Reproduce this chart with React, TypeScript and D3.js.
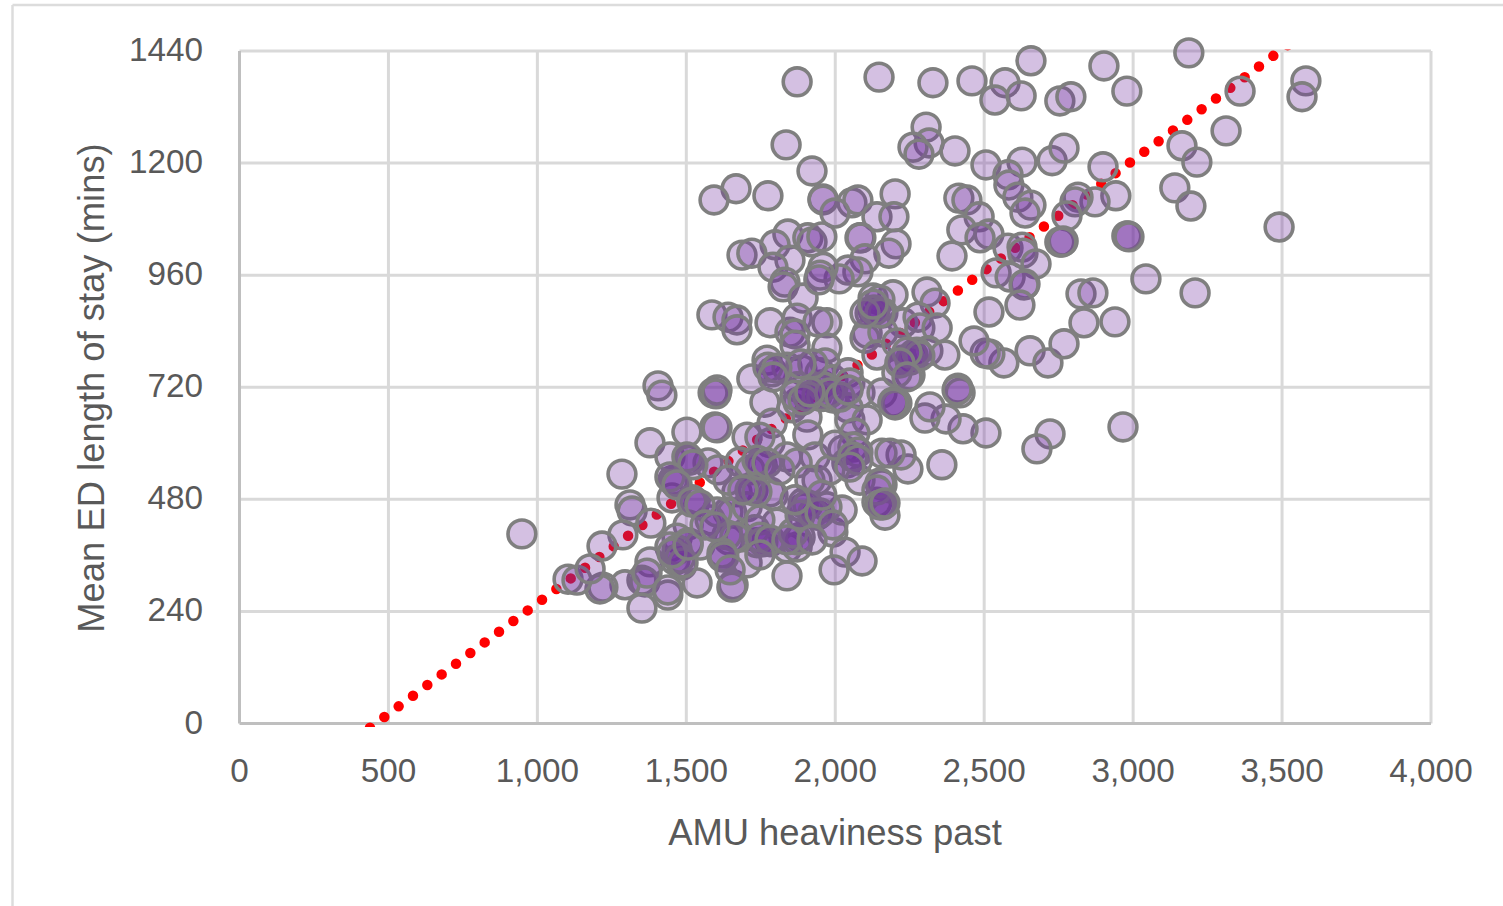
import * as d3 from "d3";

const WIDTH = 1503;
const HEIGHT = 906;
const MARGIN = { top: 51, right: 72, bottom: 182.5, left: 239.5 };

const X_TICKS = [0, 500, 1000, 1500, 2000, 2500, 3000, 3500, 4000];
const Y_TICKS = [0, 240, 480, 720, 960, 1200, 1440];

const X_TITLE = "AMU heaviness past";
const Y_TITLE = "Mean ED length of stay (mins)";

// linear trendline ends, x then y
const TREND_X = [438, 3520];
const TREND_Y = [-9, 1453];

// [AMU heaviness past, mean ED length of stay]
const POINTS: [number, number][] = [
  [1872,1374],[2147,1384],[2328,1372],[2459,1376],[2570,1372],[2536,1335],[2624,1344],[2657,1419],
  [2754,1333],[2791,1342],[2902,1408],[2979,1354],[3187,1436],[3359,1354],[3580,1376],[3567,1342],
  [3312,1269],[3164,1237],[3214,1202],[3140,1147],[3194,1108],[3490,1063],[2899,1192],[2942,1130],
  [2872,1117],[2815,1127],[2805,1117],[2778,1087],[2979,1044],[2983,1044],[2986,1042],[2754,1031],
  [2765,1033],[2761,1031],[3043,952],[3208,922],[2825,920],[2865,922],[2835,858],[2939,860],
  [2654,798],[2714,772],[2768,813],[2566,772],[2519,791],[2503,793],[2466,819],[2966,635],
  [2721,620],[2677,588],[2506,622],[2429,631],[2372,652],[2301,654],[2318,678],[2412,718],
  [2419,708],[2358,554],[2244,545],[2221,575],[2305,1277],[2315,1243],[2261,1234],[2281,1219],
  [2402,1226],[1835,1239],[1922,1183],[2506,1196],[2627,1202],[2728,1205],[2768,1232],[2580,1175],
  [2583,1153],[2613,1127],[2657,1110],[2637,1093],[1667,1145],[1593,1121],[1774,1130],[1959,1123],
  [1959,1121],[2056,1115],[2076,1121],[2201,1134],[1999,1093],[2140,1085],[2197,1085],[2415,1125],
  [2442,1121],[2483,1085],[2425,1057],[2516,1048],[2486,1040],[2580,1018],[2627,1020],[2630,1007],
  [2674,984],[2540,965],[2587,956],[2637,941],[2634,939],[2620,896],[2516,881],[2392,1001],
  [2308,924],[2083,1040],[2086,1040],[2204,1027],[2180,1007],[2100,995],[2076,967],[2043,971],
  [2013,952],[2194,918],[2127,911],[2150,907],[2335,900],[1841,1048],[1798,1025],[1687,1003],
  [1720,1007],[1908,1040],[1922,1031],[1955,1042],[1848,992],[1791,977],[1831,945],[1825,935],
  [1892,911],[1959,977],[1949,960],[1945,950],[1586,875],[1640,870],[1670,864],[1670,843],
  [1781,858],[1848,838],[1872,868],[1865,834],[1972,858],[1942,860],[1972,804],[1865,810],
  [1771,778],[1788,753],[1720,738],[1838,763],[1888,757],[1764,688],[1590,708],[1603,714],
  [1600,706],[1596,635],[1603,633],[1502,624],[1704,613],[1788,643],[1855,676],[1875,688],
  [1905,656],[1908,618],[1781,601],[1747,613],[1955,725],[1949,751],[1966,772],[1992,736],
  [1992,697],[2043,751],[2049,729],[2083,708],[1872,721],[1865,703],[1939,703],[2043,676],
  [2049,650],[2107,650],[2157,708],[2194,688],[2207,686],[2201,682],[2107,836],[2100,825],
  [2127,885],[2117,879],[2160,879],[2227,858],[2160,838],[2140,789],[2207,815],[2278,870],
  [2284,847],[2342,847],[2261,783],[2251,746],[2207,751],[2224,778],[2311,798],[2368,789],
  [2066,622],[2026,586],[2059,592],[2157,579],[2184,579],[1284,534],[1311,468],[1318,455],
  [1381,429],[1287,404],[1217,380],[1452,483],[1455,521],[1462,517],[1519,479],[1529,474],
  [1378,601],[1445,571],[1506,564],[1573,558],[1606,543],[1670,496],[1680,560],[1754,554],
  [1724,500],[1781,496],[1640,453],[1653,451],[1704,464],[1506,425],[1469,397],[1506,387],
  [1445,378],[1462,350],[1485,339],[1378,346],[1351,307],[1361,303],[1294,297],[1220,292],
  [1210,288],[1351,247],[1438,275],[1536,301],[1657,297],[1653,292],[1643,393],[1620,357],
  [1704,344],[1680,399],[1737,387],[1781,389],[1838,376],[1872,378],[1838,316],[1892,461],
  [1939,446],[1882,399],[1939,521],[1932,571],[1992,410],[2033,367],[2090,348],[1996,329],
  [2023,457],[1972,464],[2039,558],[2076,581],[2140,474],[2167,446],[2157,511],[2160,468],
  [1838,571],[1872,558],[1791,489],[1804,429],[948,406],[1103,309],[1133,307],[1177,331],
  [1405,723],[1418,703],[1368,322],[1438,286],[1546,382],[1580,436],[1730,415],[1747,436],
  [1915,521],[1982,543],[2083,521],[1999,596],[1714,543],[1640,521],
  // the darker overlaps in the middle of the cloud
  [1637,404],[1663,399],[1620,365],[1626,357],[1757,389],[1747,399],[1781,393],[1872,393],
  [1858,408],[1838,393],[1892,472],[1908,468],[1925,451],[1882,446],[1949,451],[1714,500],
  [1737,496],[1690,500],[1747,554],[1737,564],[1771,558],[1512,564],[1502,571],[1522,554],
  [1445,528],[1469,511],[1519,474],[1469,372],[1479,354],[1489,344],[1452,365],[1506,382],
  [2059,571],[2076,564],[2049,549],[2150,515],[2140,500],[2150,468],[2167,472],[1992,425],
  [1955,700],[1959,721],[1925,770],[1908,700],[1885,770],[1892,693],[1982,708],[2016,699],
  [2043,714],[1915,710],[2261,789],[2251,778],[2274,795],[2284,787],[2241,795],[2217,772],
  [2241,742],[1774,763],[1804,761],[1791,742],[2133,885],[2150,879],[2100,879],[2127,898],
  [2409,714],[2194,686],[1603,453],[1546,468],[1563,425],[1596,421],[1647,329],[1747,361],
  [1922,393],[1955,489],[1814,543],[1865,479],
];

export default function App() {
  const innerW = WIDTH - MARGIN.left - MARGIN.right;
  const innerH = HEIGHT - MARGIN.top - MARGIN.bottom;

  const x = d3.scaleLinear().domain([0, 4000]).range([MARGIN.left, MARGIN.left + innerW]);
  const y = d3.scaleLinear().domain([0, 1440]).range([MARGIN.top + innerH, MARGIN.top]);

  const trend = d3.line<number>()
    .x((d) => x(d))
    .y((_, i) => y(TREND_Y[i]));

  const font = "'Liberation Sans', Arial, sans-serif";

  return (
    <svg
      width={WIDTH}
      height={HEIGHT}
      style={{ position: "absolute", left: 0, top: 0, display: "block" }}
    >
      <defs>
        <clipPath id="plot-clip">
          <rect x={0} y={MARGIN.top - 1.5} width={WIDTH} height={innerH + 5} />
        </clipPath>
      </defs>

      {/* picture frame, only top and left are in view */}
      <line x1={12.5} x2={WIDTH} y1={5} y2={5} stroke="#dcdcdc" strokeWidth={2.5} />
      <line x1={12.5} x2={12.5} y1={5} y2={HEIGHT} stroke="#dcdcdc" strokeWidth={2.5} />

      {/* gridlines */}
      {Y_TICKS.filter((t) => t > 0).map((t) => (
        <line key={t} x1={x(0)} x2={x(4000)} y1={y(t)} y2={y(t)} stroke="#d9d9d9" strokeWidth={3} />
      ))}
      {X_TICKS.filter((t) => t > 0).map((t) => (
        <line key={t} x1={x(t)} x2={x(t)} y1={y(1440)} y2={y(0)} stroke="#d9d9d9" strokeWidth={3} />
      ))}

      {/* axis lines */}
      <line x1={x(0)} x2={x(4000)} y1={y(0)} y2={y(0)} stroke="#bfbfbf" strokeWidth={3} />
      <line x1={x(0)} x2={x(0)} y1={y(1440)} y2={y(0)} stroke="#bfbfbf" strokeWidth={3} />

      {/* trendline sits under the markers */}
      <path
        d={trend(TREND_X) ?? ""}
        fill="none"
        stroke="#ff0000"
        strokeWidth={10.5}
        strokeLinecap="round"
        strokeDasharray="0 17.87"
        clipPath="url(#plot-clip)"
      />

      {POINTS.map(([px, py], i) => (
        <circle
          key={i}
          cx={x(px)}
          cy={y(py)}
          r={13.9}
          fill="#7030a0"
          fillOpacity={0.3}
          stroke="#7f7f7f"
          strokeWidth={3.6}
        />
      ))}

      {/* tick labels */}
      {Y_TICKS.map((t) => (
        <text key={t} x={203} y={y(t) + 10} textAnchor="end" fontSize={33.3} fontFamily={font} fill="#595959">
          {t}
        </text>
      ))}
      {X_TICKS.map((t) => (
        <text key={t} x={x(t)} y={782} textAnchor="middle" fontSize={33.3} fontFamily={font} fill="#595959">
          {d3.format(",")(t)}
        </text>
      ))}

      {/* axis titles */}
      <text x={835} y={845} textAnchor="middle" fontSize={36.4} fontFamily={font} fill="#595959">
        {X_TITLE}
      </text>
      <text
        transform={`translate(104,388) rotate(-90)`}
        textAnchor="middle"
        fontSize={36.4}
        fontFamily={font}
        fill="#595959"
      >
        {Y_TITLE}
      </text>
    </svg>
  );
}
